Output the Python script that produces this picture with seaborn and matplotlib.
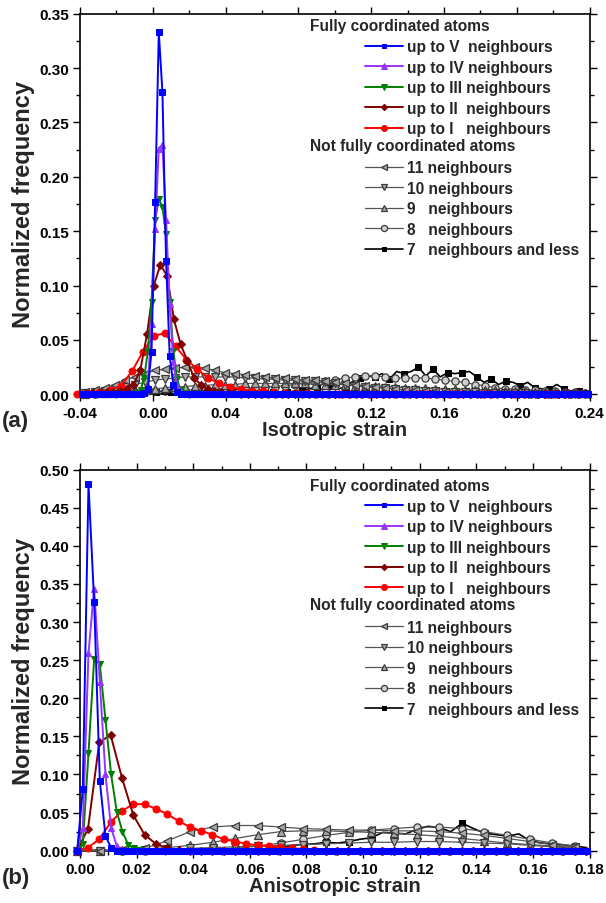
import numpy as np
import matplotlib
matplotlib.use("Agg")
import matplotlib.pyplot as plt
from matplotlib.ticker import MultipleLocator, FormatStrFormatter
import seaborn as sns

# ---------------- isotropic strain (panel a) ----------------
# bin centres of the individual histograms
iso_x_fine = np.round(-0.0387 + 0.002 * np.arange(140), 4)
iso_x_ii = np.round(-0.0365 + 0.0037 * np.arange(75), 4)
iso_x_i = np.round(-0.0415 + 0.006 * np.arange(47), 4)
iso_x_nf = np.round(-0.0375 + 0.0055 * np.arange(51), 4)
iso_x_7 = np.round(-0.038 + 0.004 * np.arange(70), 4)

iso_up_to_v = [0.0] * 17 + [0.001, 0.005, 0.039, 0.177, 0.333, 0.278, 0.123,
                            0.035, 0.009, 0.002] + [0.0] * 113
iso_up_to_iv = [0.0] * 16 + [0.001, 0.002, 0.008, 0.065, 0.152, 0.226, 0.229,
                             0.160, 0.083, 0.030, 0.008, 0.002] + [0.0] * 112
iso_up_to_iii = [0.0] * 15 + [0.001, 0.004, 0.015, 0.040, 0.085, 0.160, 0.180,
                              0.172, 0.147, 0.085, 0.040, 0.014, 0.004,
                              0.001] + [0.0] * 111
iso_up_to_ii = [0.0, 0.001, 0.001, 0.002, 0.002, 0.003, 0.005, 0.009, 0.022,
                0.055, 0.100, 0.119, 0.109, 0.069, 0.046, 0.031, 0.015, 0.009,
                0.005, 0.003, 0.002, 0.001, 0.001] + [0.0] * 52
iso_up_to_i = [0.0, 0.001, 0.002, 0.004, 0.008, 0.021, 0.039, 0.054, 0.056,
               0.044, 0.032, 0.023, 0.015, 0.010, 0.007, 0.0045, 0.0035, 0.003,
               0.002, 0.0015, 0.001, 0.001, 0.0005] + [0.0] * 24
iso_n11 = [0.002, 0.004, 0.006, 0.009, 0.013, 0.016, 0.019, 0.022, 0.023, 0.024,
           0.025, 0.025, 0.024, 0.022, 0.020, 0.019, 0.018, 0.017, 0.016, 0.015,
           0.015, 0.014, 0.013, 0.013, 0.012, 0.011, 0.010, 0.009, 0.008, 0.007,
           0.006, 0.005, 0.004, 0.004, 0.003, 0.003, 0.002, 0.002, 0.002, 0.001,
           0.001, 0.001, 0.001, 0.0005, 0.0005, 0.0, 0.0, 0.0, 0.0, 0.0, 0.0]
iso_n10 = [0.001, 0.002, 0.003, 0.005, 0.007, 0.009, 0.011, 0.013, 0.014, 0.015,
           0.016, 0.016, 0.016, 0.016, 0.016, 0.016, 0.015, 0.015, 0.014, 0.014,
           0.013, 0.013, 0.012, 0.012, 0.011, 0.010, 0.009, 0.008, 0.007, 0.006,
           0.006, 0.005, 0.004, 0.004, 0.003, 0.003, 0.002, 0.002, 0.002, 0.002,
           0.001, 0.001, 0.001, 0.001, 0.001, 0.0005, 0.0005, 0.0, 0.0, 0.0, 0.0]
iso_n9 = [0.0005, 0.001, 0.001, 0.002, 0.003, 0.003, 0.004, 0.005, 0.006, 0.007,
          0.007, 0.008, 0.008, 0.009, 0.009, 0.009, 0.010, 0.010, 0.010, 0.010,
          0.010, 0.010, 0.010, 0.009, 0.009, 0.009, 0.009, 0.008, 0.008, 0.008,
          0.007, 0.007, 0.006, 0.006, 0.006, 0.005, 0.005, 0.005, 0.004, 0.004,
          0.004, 0.004, 0.003, 0.003, 0.003, 0.002, 0.002, 0.002, 0.001, 0.001,
          0.001]
iso_n8 = [0.0005, 0.0005, 0.001, 0.001, 0.001, 0.002, 0.002, 0.003, 0.003, 0.003,
          0.004, 0.004, 0.004, 0.005, 0.005, 0.005, 0.006, 0.006, 0.007, 0.007,
          0.008, 0.009, 0.010, 0.011, 0.012, 0.013, 0.015, 0.016, 0.017, 0.017,
          0.016, 0.015, 0.015, 0.015, 0.015, 0.014, 0.013, 0.012, 0.011, 0.009,
          0.008, 0.006, 0.005, 0.005, 0.004, 0.004, 0.003, 0.003, 0.002, 0.002,
          0.001]
iso_n7 = [0.0, 0.0, 0.0, 0.0, 0.0, 0.001, 0.001, 0.001, 0.002, 0.002, 0.002,
          0.003, 0.002, 0.002, 0.001, 0.001, 0.001, 0.001, 0.001, 0.001, 0.001,
          0.001, 0.001, 0.002, 0.002, 0.002, 0.002,
          0.002, 0.002, 0.003, 0.004, 0.005, 0.007, 0.010, 0.008, 0.005, 0.007,
          0.012, 0.015, 0.017, 0.016, 0.019, 0.014, 0.021, 0.019, 0.021, 0.025,
          0.017, 0.023, 0.016, 0.020, 0.019, 0.020, 0.021, 0.016, 0.011, 0.014,
          0.009, 0.012, 0.011, 0.008, 0.011, 0.006, 0.005, 0.005, 0.009, 0.005,
          0.003, 0.003, 0.003]

# ---------------- anisotropic strain (panel b) ----------------
ani_x_fine = np.round(-0.001 + 0.002 * np.arange(91), 4)
ani_x_mid = np.round(-0.0012 + 0.004 * np.arange(46), 4)
ani_x_nf = np.round(-0.0011 + 0.008 * np.arange(23), 4)
ani_x_7 = np.round(-0.001 + 0.004 * np.arange(46), 4)

ani_up_to_v = [0.0, 0.081, 0.481, 0.327, 0.092, 0.019, 0.004] + [0.0] * 84
ani_up_to_iv = [0.0, 0.030, 0.259, 0.344, 0.222, 0.100, 0.030, 0.006,
                0.001] + [0.0] * 82
ani_up_to_iii = [0.0, 0.009, 0.128, 0.252, 0.245, 0.172, 0.100, 0.051, 0.025,
                 0.008, 0.003, 0.001] + [0.0] * 79
ani_up_to_ii = [0.0, 0.028, 0.142, 0.152, 0.096, 0.047, 0.021, 0.009, 0.003,
                0.001] + [0.0] * 36
ani_up_to_i = [0.0, 0.004, 0.015, 0.037, 0.052, 0.061, 0.061, 0.055, 0.048,
               0.039, 0.031, 0.026, 0.021, 0.015, 0.012, 0.009, 0.007, 0.006,
               0.0045, 0.003, 0.002, 0.001] + [0.0] * 24
ani_n11 = [0.0, 0.0, 0.0005, 0.003, 0.013, 0.025, 0.031, 0.033, 0.033, 0.031,
           0.029, 0.028, 0.027, 0.027, 0.026, 0.026, 0.025, 0.023, 0.020, 0.016,
           0.012, 0.008, 0.005]
ani_n10 = [0.0, 0.0, 0.0, 0.001, 0.002, 0.003, 0.004, 0.005, 0.006, 0.007,
           0.008, 0.009, 0.010, 0.011, 0.011, 0.012, 0.012, 0.011, 0.010, 0.009,
           0.007, 0.005, 0.003]
ani_n9 = [0.0, 0.0, 0.001, 0.002, 0.004, 0.007, 0.011, 0.016, 0.021, 0.025,
          0.026, 0.026, 0.025, 0.024, 0.023, 0.021, 0.019, 0.016, 0.013, 0.010,
          0.008, 0.006, 0.004]
ani_n8 = [0.0, 0.0, 0.0, 0.0, 0.0005, 0.001, 0.001, 0.003, 0.006, 0.010, 0.015,
          0.020, 0.024, 0.027, 0.029, 0.031, 0.031, 0.029, 0.025, 0.020, 0.015,
          0.010, 0.006]
ani_n7 = [0.0, 0.0, 0.001, 0.0, 0.001, 0.001, 0.001, 0.001, 0.001, 0.001, 0.001,
          0.001, 0.001, 0.001, 0.002, 0.002,
          0.002, 0.003, 0.004, 0.007, 0.008, 0.009, 0.011, 0.010, 0.012, 0.015,
          0.017, 0.024, 0.023, 0.022, 0.028, 0.032, 0.030, 0.025, 0.036, 0.029,
          0.023, 0.021, 0.019, 0.022, 0.013, 0.010, 0.009, 0.007, 0.006, 0.004]

full_labels = ["up to V  neighbours", "up to IV neighbours",
               "up to III neighbours", "up to II  neighbours",
               "up to I   neighbours"]
part_labels = ["11 neighbours", "10 neighbours", "9   neighbours",
               "8   neighbours", "7   neighbours and less"]

# ---------------- styles ----------------
GRAY_LINE = "#555555"
GRAY_FACE = "#a8a8a8"
GRAY_EDGE = "#3a3a3a"
full_styles = [
    dict(color="#0000ff", marker="s", markersize=4.2, markerfacecolor="#0000ff",
         markeredgecolor="#0000ff", linewidth=1.4, zorder=10),
    dict(color="#9933ff", marker="^", markersize=4.8, markerfacecolor="#9933ff",
         markeredgecolor="#9933ff", linewidth=1.4, zorder=9),
    dict(color="#008000", marker="v", markersize=4.8, markerfacecolor="#008000",
         markeredgecolor="#008000", linewidth=1.4, zorder=8),
    dict(color="#800000", marker="D", markersize=3.8, markerfacecolor="#800000",
         markeredgecolor="#800000", linewidth=1.4, zorder=7),
    dict(color="#ff0000", marker="o", markersize=5.0, markerfacecolor="#ff0000",
         markeredgecolor="#ff0000", linewidth=1.4, zorder=6),
]
part_styles = [
    dict(color=GRAY_LINE, marker="<", markersize=5.2, markerfacecolor=GRAY_FACE,
         markeredgecolor=GRAY_EDGE, markeredgewidth=0.9, linewidth=0.9, zorder=5),
    dict(color=GRAY_LINE, marker="v", markersize=5.2, markerfacecolor=GRAY_FACE,
         markeredgecolor=GRAY_EDGE, markeredgewidth=0.9, linewidth=0.9, zorder=4),
    dict(color=GRAY_LINE, marker="^", markersize=5.2, markerfacecolor=GRAY_FACE,
         markeredgecolor=GRAY_EDGE, markeredgewidth=0.9, linewidth=0.9, zorder=3),
    dict(color=GRAY_LINE, marker="o", markersize=5.2, markerfacecolor="#d0d0d0",
         markeredgecolor=GRAY_EDGE, markeredgewidth=0.9, linewidth=0.9, zorder=2),
    dict(color="#000000", marker="s", markersize=4.2, markerfacecolor="#000000",
         markeredgecolor="#000000", linewidth=1.2, zorder=1, markevery=2),
]

sns.set_style("ticks")
plt.rcParams["font.family"] = ["Liberation Sans", "DejaVu Sans"]
plt.rcParams["font.weight"] = "bold"
plt.rcParams["axes.unicode_minus"] = False

fig = plt.figure(figsize=(6.06, 9.04), dpi=100)
ax_a = fig.add_axes([0.132, 0.5627, 0.8408, 0.4211])
ax_b = fig.add_axes([0.132, 0.0579, 0.8408, 0.4214])

LEG_FS = 11.2


def draw_series(ax, x, y, style):
    sns.lineplot(x=x, y=y, ax=ax, legend=False, sort=False, estimator=None,
                 clip_on=False, **style)
    return ax.lines[-1]


def draw_panel(ax, full, part):
    part_lines = [draw_series(ax, x, y, st) for (x, y), st in zip(part, part_styles)]
    full_lines = [draw_series(ax, x, y, st) for (x, y), st in zip(full, full_styles)]
    return full_lines, part_lines


def add_legend(ax, full_lines, part_lines, top_frac):
    step = 20.0 / 381.0
    common = dict(loc="upper left", frameon=False, fontsize=LEG_FS,
                  handlelength=2.45, handletextpad=0.25, labelspacing=0.35,
                  borderpad=0, borderaxespad=0, markerscale=0.85)
    ax.text(0.4515, top_frac, "Fully coordinated atoms", transform=ax.transAxes,
            ha="left", va="center", fontsize=LEG_FS, fontweight="bold")
    leg1 = ax.legend(full_lines, full_labels,
                     bbox_to_anchor=(0.559, top_frac - 0.5 * step - 0.010),
                     **common)
    ax.add_artist(leg1)
    ax.text(0.4515, top_frac - 6 * step, "Not fully coordinated atoms",
            transform=ax.transAxes, ha="left", va="center", fontsize=LEG_FS,
            fontweight="bold")
    leg2 = ax.legend(part_lines, part_labels,
                     bbox_to_anchor=(0.559, top_frac - 6.5 * step - 0.013),
                     **common)
    for leg in (leg1, leg2):
        for t in leg.get_texts():
            t.set_fontweight("bold")


def style_axes(ax, xlim, xmaj, xmin, ylim, ymaj, ymin, xlabel):
    ax.set_xlim(*xlim)
    ax.set_ylim(*ylim)
    ax.xaxis.set_major_locator(MultipleLocator(xmaj))
    ax.xaxis.set_minor_locator(MultipleLocator(xmin))
    ax.yaxis.set_major_locator(MultipleLocator(ymaj))
    ax.yaxis.set_minor_locator(MultipleLocator(ymin))
    ax.xaxis.set_major_formatter(FormatStrFormatter("%.2f"))
    ax.yaxis.set_major_formatter(FormatStrFormatter("%.2f"))
    ax.tick_params(which="both", direction="out", top=True, right=True,
                   width=1.0, colors="black")
    ax.tick_params(which="major", length=5)
    ax.tick_params(which="minor", length=3)
    ax.tick_params(axis="x", which="major", pad=3.5)
    ax.tick_params(axis="y", which="major", pad=3)
    for lab in ax.get_xticklabels() + ax.get_yticklabels():
        lab.set_fontsize(11)
        lab.set_fontweight("bold")
    for sp in ax.spines.values():
        sp.set_visible(True)
        sp.set_linewidth(1.2)
        sp.set_color("black")
    ax.set_xlabel(xlabel, fontsize=14.5, fontweight="bold", labelpad=0)
    ax.set_ylabel("Normalized frequency", fontsize=17, fontweight="bold",
                  labelpad=3)


full_a, part_a = draw_panel(
    ax_a,
    [(iso_x_fine, iso_up_to_v), (iso_x_fine, iso_up_to_iv),
     (iso_x_fine, iso_up_to_iii), (iso_x_ii, iso_up_to_ii),
     (iso_x_i, iso_up_to_i)],
    [(iso_x_nf, iso_n11), (iso_x_nf, iso_n10), (iso_x_nf, iso_n9),
     (iso_x_nf, iso_n8), (iso_x_7, iso_n7)])
full_b, part_b = draw_panel(
    ax_b,
    [(ani_x_fine, ani_up_to_v), (ani_x_fine, ani_up_to_iv),
     (ani_x_fine, ani_up_to_iii), (ani_x_mid, ani_up_to_ii),
     (ani_x_mid, ani_up_to_i)],
    [(ani_x_nf, ani_n11), (ani_x_nf, ani_n10), (ani_x_nf, ani_n9),
     (ani_x_nf, ani_n8), (ani_x_7, ani_n7)])

style_axes(ax_a, (-0.04, 0.24), 0.04, 0.02, (0.0, 0.35), 0.05, 0.025,
           "Isotropic strain")
style_axes(ax_b, (0.0, 0.18), 0.02, 0.01, (0.0, 0.50), 0.05, 0.025,
           "Anisotropic strain")

add_legend(ax_a, full_a, part_a, 1 - 12.0 / 380.6)
add_legend(ax_b, full_b, part_b, 1 - 15.3 / 381.0)

fig.text(0.003, 1 - 422.0 / 904, "(a)", ha="left", va="center", fontsize=16,
         fontweight="bold")
fig.text(0.003, 1 - 879.0 / 904, "(b)", ha="left", va="center", fontsize=16,
         fontweight="bold")

fig.savefig("out.png", dpi=100)
